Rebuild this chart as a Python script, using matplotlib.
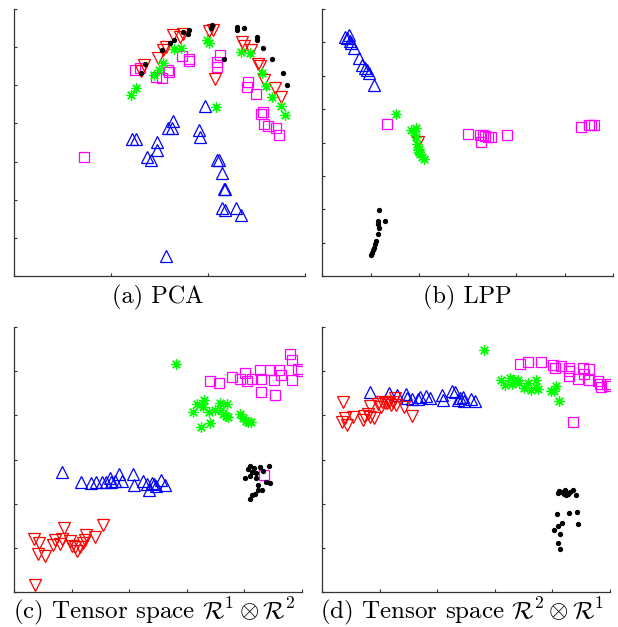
import matplotlib
matplotlib.use("Agg")
import matplotlib.pyplot as plt

plt.rcParams['mathtext.fontset'] = 'cm'
plt.rcParams['font.family'] = ['cmr10', 'DejaVu Serif']

# ---- (a) PCA ----
a_sq_x = [0.72, 1.25, 1.30, 1.46, 1.53, 1.59, 1.60, 1.73, 1.80, 1.80, 2.12, 2.09, 2.09,
          2.41, 2.40, 2.49, 2.55, 2.57, 2.58, 2.62, 2.70, 2.73]
a_sq_y = [3.13, 5.40, 5.46, 5.22, 5.18, 5.40, 5.35, 5.77, 5.70, 5.64, 5.79, 5.62, 5.49,
          5.09, 4.96, 4.76, 4.26, 4.29, 3.98, 3.93, 3.87, 3.69]
a_dn_x = [1.31, 1.34, 1.48, 1.54, 1.57, 1.64, 1.71, 1.74, 2.01, 2.05, 2.07, 2.35, 2.37,
          2.44, 2.52, 2.54, 2.58, 2.69, 2.75]
a_dn_y = [5.37, 5.53, 5.72, 5.92, 6.01, 6.32, 6.27, 6.34, 6.43, 6.45, 5.16, 6.14, 6.04,
          5.92, 5.57, 5.50, 5.15, 4.92, 4.70]
a_dot_x = [1.31, 1.35, 1.53, 1.61, 1.65, 1.74, 1.80, 1.79, 2.04, 2.03, 2.17, 2.30, 2.30,
           2.37, 2.51, 2.50, 2.57, 2.66, 2.77, 2.81]
a_dot_y = [5.31, 5.57, 5.92, 6.10, 6.19, 6.40, 6.45, 6.34, 6.57, 6.50, 5.70, 6.54, 6.45,
           6.50, 6.26, 6.19, 5.98, 5.68, 5.33, 5.00]
a_st_x = [1.21, 1.26, 1.44, 1.49, 1.54, 1.65, 1.72, 1.99, 2.01, 2.08, 2.34, 2.43, 2.56,
          2.60, 2.66, 2.75, 2.79]
a_st_y = [4.74, 4.94, 5.27, 5.40, 5.59, 5.94, 5.99, 6.20, 6.12, 4.44, 5.88, 5.84, 5.31,
          4.98, 4.70, 4.45, 4.22]
a_up_x = [1.22, 1.26, 1.47, 1.47, 1.37, 1.41, 1.59, 1.63, 1.64, 1.91, 1.92, 1.97, 2.09,
          2.11, 2.14, 2.16, 2.18, 2.14, 2.18, 2.29, 2.34, 1.57]
a_up_y = [3.58, 3.60, 3.52, 3.30, 3.12, 3.05, 3.87, 3.89, 4.07, 3.82, 3.65, 4.45, 3.04,
          3.04, 2.69, 2.28, 2.28, 1.79, 1.74, 1.79, 1.61, 0.52]

# ---- (b) LPP ----
b_up_x = [0.48, 0.52, 0.55, 0.57, 0.60, 0.67, 0.76, 0.83, 0.88, 0.92, 0.96, 1.08]
b_up_y = [7.17, 7.12, 7.22, 7.05, 6.99, 6.84, 6.52, 6.32, 6.22, 6.17, 6.07, 5.72]
b_st_x = [1.53, 1.83, 1.89, 1.94, 1.94, 1.96, 1.99, 2.01, 2.03, 2.07, 2.10, 1.98]
b_st_y = [4.84, 4.37, 4.32, 4.42, 4.17, 3.97, 3.82, 3.72, 3.67, 3.57, 3.52, 3.77]
b_dn_x = [1.98]
b_dn_y = [4.02]
b_sq_x = [1.34, 3.02, 3.25, 3.28, 3.32, 3.37, 3.42, 3.49, 3.82, 5.33, 5.50, 5.55, 5.60]
b_sq_y = [4.54, 4.25, 4.22, 4.02, 4.22, 4.19, 4.17, 4.15, 4.22, 4.47, 4.52, 4.52, 4.52]
b_dot_x = [1.17, 1.15, 1.16, 1.17, 1.15, 1.30, 1.12, 1.10, 1.08, 1.06, 1.03, 1.01]
b_dot_y = [1.97, 1.65, 1.55, 1.45, 1.25, 1.65, 1.05, 0.95, 0.85, 0.77, 0.69, 0.62]

# ---- (c) Tensor space R1 x R2 ----
c_sq_x = [3.41, 3.56, 3.79, 3.92, 4.01, 4.05, 4.14, 4.27, 4.28, 4.28, 4.44, 4.51, 4.53,
          4.60, 4.64, 4.79, 4.82, 4.82, 4.93, 4.98, 4.34]
c_sq_y = [4.77, 4.74, 4.86, 4.83, 4.95, 4.77, 4.82, 5.02, 4.83, 4.52, 5.03, 4.79, 4.46,
          5.03, 4.92, 5.39, 5.26, 4.79, 5.05, 5.01, 2.66]
c_st_x = [2.81, 3.10, 3.17, 3.29, 3.28, 3.25, 3.39, 3.41, 3.49, 3.57, 3.59, 3.63, 3.69,
          3.68, 3.72, 3.92, 3.97, 4.02, 4.07, 4.11]
c_st_y = [5.16, 4.07, 4.26, 4.35, 4.18, 3.74, 4.08, 3.82, 4.12, 4.29, 4.11, 4.03, 4.26,
          3.99, 3.96, 4.03, 3.93, 3.88, 3.86, 3.86]
c_dot_x = [4.01, 4.06, 4.10, 4.10, 4.13, 4.17, 4.21, 4.20, 4.23, 4.23, 4.27, 4.32, 4.42,
           4.38, 4.45, 4.30, 4.18, 4.13, 4.09]
c_dot_y = [2.57, 2.78, 2.85, 2.62, 2.72, 2.80, 2.57, 2.69, 2.42, 2.31, 2.84, 2.75, 2.86,
           2.50, 2.47, 2.31, 2.23, 2.19, 2.10]
c_up_x = [0.83, 1.16, 1.33, 1.43, 1.52, 1.60, 1.66, 1.68, 1.76, 1.83, 1.87, 2.06, 2.08,
          2.24, 2.31, 2.34, 2.39, 2.43, 2.46, 2.56, 2.62]
c_up_y = [2.71, 2.50, 2.47, 2.48, 2.48, 2.48, 2.57, 2.50, 2.52, 2.67, 2.51, 2.67, 2.42,
          2.52, 2.44, 2.31, 2.47, 2.44, 2.40, 2.53, 2.42]
c_dn_x = [0.35, 0.44, 0.41, 0.54, 0.68, 0.72, 0.80, 0.83, 0.87, 0.98, 1.01, 1.06, 1.10,
          1.14, 1.20, 1.23, 1.25, 1.40, 1.54, 0.36]
c_dn_y = [1.19, 1.10, 0.85, 0.82, 1.06, 1.17, 1.08, 1.19, 1.44, 1.16, 1.05, 1.01, 0.93,
          1.02, 1.10, 1.17, 1.29, 1.25, 1.51, 0.15]

# ---- (d) Tensor space R2 x R1 ----
d_st_x = [2.82, 3.11, 3.18, 3.27, 3.29, 3.34, 3.41, 3.42, 3.50, 3.57, 3.63, 3.71, 3.71,
          3.75, 3.97, 4.02, 4.07, 4.11]
d_st_y = [5.47, 4.80, 4.69, 4.84, 4.71, 4.79, 4.80, 4.73, 4.61, 4.74, 4.58, 4.80, 4.64,
          4.59, 4.54, 4.54, 4.67, 4.33]
d_sq_x = [3.43, 3.57, 3.80, 4.01, 4.05, 4.15, 4.28, 4.29, 4.29, 4.44, 4.53, 4.54, 4.64,
          4.63, 4.79, 4.83, 4.84, 4.94, 4.99, 4.35]
d_sq_y = [5.17, 5.20, 5.20, 5.13, 5.07, 5.11, 5.07, 5.01, 4.90, 4.82, 5.07, 4.94, 5.05,
          4.79, 4.77, 4.71, 4.64, 4.71, 4.67, 3.86]
d_up_x = [0.83, 1.16, 1.31, 1.45, 1.48, 1.56, 1.66, 1.70, 1.81, 1.87, 2.09, 2.10, 2.26,
          2.31, 2.36, 2.40, 2.45, 2.47, 2.59, 2.65]
d_up_y = [4.52, 4.50, 4.46, 4.49, 4.39, 4.36, 4.36, 4.41, 4.44, 4.39, 4.46, 4.35, 4.56,
          4.52, 4.35, 4.39, 4.41, 4.33, 4.36, 4.33]
d_dn_x = [0.36, 0.34, 0.44, 0.40, 0.53, 0.71, 0.73, 0.80, 0.84, 0.90, 0.83, 0.98, 1.02,
          1.04, 1.09, 1.13, 1.17, 1.19, 1.24, 1.26, 1.28, 1.42, 1.56]
d_dn_y = [4.31, 3.84, 3.78, 3.93, 3.96, 3.90, 3.99, 4.03, 3.97, 3.93, 4.21, 4.26, 4.20,
          4.30, 4.27, 4.29, 4.30, 4.24, 4.30, 4.39, 4.24, 4.18, 3.99]
d_dot_x = [4.09, 4.12, 4.16, 4.20, 4.22, 4.23, 4.27, 4.31, 4.36, 4.41, 4.02, 4.08, 4.10,
           4.16, 4.28, 4.42, 4.45, 4.14, 4.10, 4.13]
d_dot_y = [2.25, 2.29, 2.27, 2.22, 2.31, 2.19, 2.23, 2.26, 2.32, 2.19, 1.41, 1.76, 1.49,
           1.57, 1.79, 1.82, 1.53, 1.31, 1.11, 0.98]

captions = ['(a) PCA', '(b) LPP',
            r'(c) Tensor space $\mathcal{R}^1\otimes\mathcal{R}^2$',
            r'(d) Tensor space $\mathcal{R}^2\otimes\mathcal{R}^1$']


def draw(ax, up, dn, sq, st, dot, nx, ny):
    ax.plot(up[0], up[1], '^', ls='none', mfc='none', mec='#0000ff', ms=8, mew=0.9)
    ax.plot(sq[0], sq[1], 's', ls='none', mfc='none', mec='#ff00ff', ms=7, mew=0.9)
    ax.plot(dn[0], dn[1], 'v', ls='none', mfc='none', mec='#ff0000', ms=8, mew=0.9)
    ax.plot(st[0], st[1], marker=(8, 2, 0), ls='none', mec='#00ff00', ms=7.5, mew=0.9)
    ax.plot(dot[0], dot[1], 'o', ls='none', mfc='k', mec='k', ms=2.8)
    ax.set_xlim(0, nx)
    ax.set_ylim(0, ny)
    ax.set_xticks(range(nx + 1))
    ax.set_yticks(range(ny + 1))
    ax.set_xticklabels([])
    ax.set_yticklabels([])
    ax.tick_params(direction='in', length=2.5, width=0.8, color='#333333')
    for s in ['top', 'right']:
        ax.spines[s].set_visible(False)
    for s in ['left', 'bottom']:
        ax.spines[s].set_color('#333333')
        ax.spines[s].set_linewidth(0.9)


fig = plt.figure(figsize=(6.18, 6.27), dpi=100)
W, H = 618.0, 627.0
ax_a = fig.add_axes([14 / W, 1 - 276 / H, 291 / W, 267 / H])
ax_b = fig.add_axes([322 / W, 1 - 276 / H, 291 / W, 267 / H])
ax_c = fig.add_axes([14 / W, 1 - 592 / H, 288 / W, 265 / H])
ax_d = fig.add_axes([322 / W, 1 - 592 / H, 288 / W, 265 / H])

draw(ax_a, (a_up_x, a_up_y), (a_dn_x, a_dn_y), (a_sq_x, a_sq_y), (a_st_x, a_st_y),
     (a_dot_x, a_dot_y), 3, 7)
draw(ax_b, (b_up_x, b_up_y), (b_dn_x, b_dn_y), (b_sq_x, b_sq_y), (b_st_x, b_st_y),
     (b_dot_x, b_dot_y), 6, 8)
draw(ax_c, (c_up_x, c_up_y), (c_dn_x, c_dn_y), (c_sq_x, c_sq_y), (c_st_x, c_st_y),
     (c_dot_x, c_dot_y), 5, 6)
draw(ax_d, (d_up_x, d_up_y), (d_dn_x, d_dn_y), (d_sq_x, d_sq_y), (d_st_x, d_st_y),
     (d_dot_x, d_dot_y), 5, 6)

fig.text(158 / W, 1 - 297 / H, captions[0], ha='center', va='center', fontsize=17.5)
fig.text(467 / W, 1 - 297 / H, captions[1], ha='center', va='center', fontsize=17.5)
fig.text(154 / W, 1 - 611 / H, captions[2], ha='center', va='center', fontsize=18)
fig.text(462 / W, 1 - 611 / H, captions[3], ha='center', va='center', fontsize=18)

fig.savefig('out.png', dpi=100)
